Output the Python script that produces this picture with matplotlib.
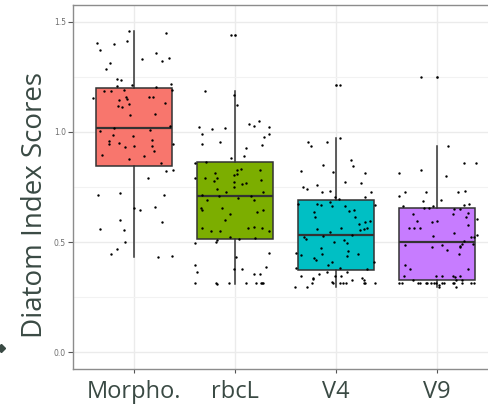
import matplotlib
matplotlib.use("Agg")
import matplotlib.pyplot as plt
from matplotlib.ticker import MultipleLocator

# diatom index scores per method, with jitter offsets
groups = ["Morpho.", "rbcL", "V4", "V9"]
colors = ["#F8766D", "#7CAE00", "#00BFC4", "#C77CFF"]

morpho_y = [1.459, 1.450, 1.404, 1.400, 1.413, 1.373, 1.359, 1.332, 1.323, 1.335,
            1.314, 1.286, 1.241, 1.235, 1.218, 1.208, 1.214, 1.203, 1.191, 1.184,
            1.184, 1.190, 1.155, 1.156, 1.147, 1.146, 1.160, 1.160, 1.131, 1.128,
            1.119, 1.114, 1.082, 1.078, 1.028, 1.019, 1.005, 1.010, 0.986, 0.983,
            0.964, 0.958, 0.946, 0.951, 0.933, 0.937, 0.936, 0.946, 0.915, 0.896,
            0.892, 0.878, 0.860, 0.824, 0.828, 0.792, 0.715, 0.724, 0.715, 0.655,
            0.647, 0.661, 0.602, 0.593, 0.561, 0.556, 0.502, 0.467, 0.447, 0.434,
            0.438]
morpho_dx = [-0.046, 0.32, -0.37, -0.198, -0.066, -0.34, 0.218, 0.083, 0.274, 0.343,
             -0.234, -0.28, -0.172, -0.129, 0.366, -0.165, -0.02, 0.218, 0.373, -0.30,
             -0.228, -0.099, -0.403, -0.083, -0.069, -0.145, 0.145, 0.191, 0.304, -0.053,
             -0.162, -0.116, 0.205, -0.036, 0.353, -0.198, -0.337, 0.158, -0.205, -0.01,
             0.182, -0.244, -0.25, -0.152, -0.092, 0.003, 0.182, 0.383, 0.201, -0.317,
             0.099, -0.05, 0.267, 0.314, 0.383, 0.139, -0.353, -0.135, 0.30, 0.003,
             0.063, 0.205, -0.139, 0.277, -0.34, -0.096, -0.092, -0.168, -0.228, 0.241,
             0.376]

rbcl_y = [1.438, 1.187, 1.169, 1.123, 1.023, 1.014, 1.019, 1.037, 1.028, 1.051,
          1.023, 0.992, 0.978, 0.992, 0.955, 0.946, 0.942, 0.928, 0.892, 0.883,
          0.865, 0.860, 0.828, 0.833, 0.815, 0.806, 0.810, 0.828, 0.792, 0.792,
          0.792, 0.779, 0.783, 0.774, 0.765, 0.769, 0.751, 0.742, 0.729, 0.729,
          0.715, 0.711, 0.711, 0.701, 0.692, 0.692, 0.656, 0.647, 0.656, 0.647,
          0.638, 0.629, 0.602, 0.565, 0.552, 0.552, 0.565, 0.570, 0.565, 0.552,
          0.525, 0.516, 0.520, 0.511, 0.502, 0.497, 0.449, 0.434, 0.389, 0.379,
          0.379, 0.398, 0.366, 0.357, 0.357, 0.316, 0.316, 0.311, 0.316, 0.316,
          0.316, 0.316, 0.316, 0.316]
rbcl_dx = [-0.043, -0.294, -0.007, 0.02, -0.36, -0.231, -0.096, 0.135, 0.191, 0.234,
           0.34, -0.33, 0.284, 0.34, -0.152, -0.327, 0.264, 0.112, 0.086, -0.036,
           -0.29, -0.393, 0.017, 0.059, -0.201, -0.013, 0.023, 0.251, -0.396, -0.30,
           -0.182, -0.205, 0.254, -0.007, 0.069, 0.112, -0.007, -0.175, -0.086, 0.277,
           -0.33, -0.158, 0.162, 0.03, -0.274, 0.188, -0.337, -0.327, -0.129, 0.277,
           0.215, -0.05, -0.096, -0.323, -0.241, -0.149, 0.129, 0.185, 0.271, 0.34,
           -0.053, 0.036, 0.201, -0.182, -0.191, -0.40, 0.337, 0.013, 0.31, -0.013,
           0.073, -0.40, -0.373, 0.191, 0.251, -0.393, -0.185, -0.178, -0.063, 0.106,
           0.205, 0.254, 0.264, 0.281]

v4_y = [1.214, 0.955, 0.937, 0.955, 0.974, 0.874, 0.847, 0.824, 0.851, 0.819,
        0.815, 0.774, 0.769, 0.751, 0.742, 0.760, 0.729, 0.733, 0.729, 0.706,
        0.706, 0.697, 0.683, 0.674, 0.674, 0.668, 0.665, 0.665, 0.670, 0.638,
        0.642, 0.647, 0.615, 0.615, 0.597, 0.593, 0.584, 0.565, 0.561, 0.556,
        0.565, 0.561, 0.547, 0.525, 0.516, 0.529, 0.534, 0.502, 0.511, 0.497,
        0.475, 0.461, 0.452, 0.443, 0.447, 0.447, 0.438, 0.429, 0.420, 0.411,
        0.398, 0.384, 0.411, 0.379, 0.384, 0.366, 0.366, 0.357, 0.348, 0.348,
        0.348, 0.339, 0.333, 0.330, 0.339, 0.330, 0.316, 0.316, 0.319, 0.316,
        0.316, 0.316, 0.316, 0.316, 0.316, 0.298, 0.298]
v4_dx = [0.035, -0.274, -0.244, -0.092, 0.04, 0.145, 0.165, -0.35, -0.125, -0.03,
         0.29, 0.086, 0.251, -0.33, -0.284, -0.191, -0.135, -0.056, 0.347, 0.284,
         -0.013, 0.033, -0.059, -0.38, -0.185, -0.152, -0.043, 0.086, 0.383, -0.218,
         0.132, 0.178, -0.208, 0.188, 0.337, 0.287, 0.228, 0.31, 0.277, 0.241,
         0.053, -0.191, -0.056, -0.314, -0.294, -0.132, 0.162, -0.023, 0.079, 0.112,
         -0.149, 0.119, -0.40, -0.343, -0.142, 0.218, 0.109, -0.218, -0.195, -0.043,
         -0.083, -0.396, 0.376, 0.31, 0.036, 0.106, -0.089, -0.165, -0.01, 0.046,
         -0.343, -0.224, -0.231, 0.155, 0.257, 0.274, 0.287, -0.241, -0.04, -0.026,
         0.043, 0.069, 0.099, 0.277, 0.386, -0.409, -0.29]

v9_y = [1.250, 0.937, 0.860, 0.860, 0.815, 0.828, 0.801, 0.711, 0.729, 0.665,
        0.729, 0.688, 0.656, 0.656, 0.665, 0.692, 0.729, 0.733, 0.652, 0.652,
        0.670, 0.674, 0.629, 0.629, 0.633, 0.597, 0.597, 0.593, 0.615, 0.606,
        0.565, 0.565, 0.565, 0.579, 0.543, 0.529, 0.525, 0.525, 0.534, 0.488,
        0.479, 0.488, 0.506, 0.493, 0.484, 0.493, 0.479, 0.466, 0.447, 0.398,
        0.379, 0.379, 0.348, 0.330, 0.348, 0.348, 0.348, 0.343, 0.348, 0.330,
        0.330, 0.316, 0.316, 0.316, 0.316, 0.316, 0.316, 0.316, 0.316, 0.316,
        0.316, 0.316, 0.316, 0.316, 0.316, 0.316, 0.316, 0.307, 0.295, 0.295]
v9_dx = [-0.158, 0.109, 0.271, 0.389, -0.373, -0.155, 0.089, -0.373, -0.317, -0.337,
         -0.109, -0.135, -0.125, -0.076, -0.04, 0.043, 0.205, 0.281, 0.165, 0.224,
         0.271, 0.32, -0.234, 0.162, 0.307, -0.201, 0.003, -0.053, 0.287, 0.399,
         -0.277, -0.224, -0.165, 0.307, 0.165, -0.04, 0.333, 0.37, 0.399, -0.314,
         -0.046, 0.046, 0.264, 0.248, 0.231, 0.356, 0.224, 0.102, 0.215, -0.32,
         -0.271, 0.307, -0.33, -0.241, -0.013, 0.05, 0.162, 0.175, 0.224, 0.244,
         0.191, -0.373, -0.347, -0.191, -0.172, -0.112, -0.096, -0.056, -0.033, -0.007,
         0.05, 0.069, 0.172, 0.244, 0.34, 0.366, 0.155, 0.017, 0.017, 0.191]

scores = [morpho_y, rbcl_y, v4_y, v9_y]
jitter = [morpho_dx, rbcl_dx, v4_dx, v9_dx]

text_col = "#3A4A44"

fig = plt.figure(figsize=(4.89, 4.04), dpi=100)
ax = fig.add_axes([73 / 489, 1 - 369 / 404, 416 / 489, 364 / 404])

pos = list(range(1, len(groups) + 1))
bp = ax.boxplot(scores, positions=pos, widths=0.75, patch_artist=True,
                whis=1.5, showcaps=False,
                boxprops=dict(edgecolor="#333333", linewidth=1.1),
                whiskerprops=dict(color="#333333", linewidth=1.1),
                medianprops=dict(color="#333333", linewidth=1.6),
                flierprops=dict(marker="o", markersize=1.9, markerfacecolor="black",
                                markeredgewidth=0),
                zorder=2)
for patch, c in zip(bp["boxes"], colors):
    patch.set_facecolor(c)

for p, ys, dx in zip(pos, scores, jitter):
    ax.scatter([p + d for d in dx], ys, s=3, color="black", linewidths=0, zorder=3)

ax.set_xlim(0.396, 4.515)
ax.set_ylim(-0.075, 1.575)
ax.yaxis.set_minor_locator(MultipleLocator(0.25))
ax.set_yticks([0.0, 0.5, 1.0, 1.5])
ax.set_yticklabels(["0.0", "0.5", "1.0", "1.5"])
ax.set_xticks(pos)
ax.set_xticklabels(groups)

ax.grid(which="major", color="#EBEBEB", linewidth=1.0, zorder=0)
ax.grid(which="minor", axis="y", color="#F2F2F2", linewidth=0.8, zorder=0)
ax.set_axisbelow(True)

for side in ["left", "top", "bottom"]:
    ax.spines[side].set_color("#8C8C8C")
    ax.spines[side].set_linewidth(1.0)
ax.spines["right"].set_visible(False)

ax.tick_params(axis="y", which="major", length=3.5, width=0.8, color="#555555",
               labelsize=5.5, labelcolor="#6E6E6E", pad=1.5)
ax.tick_params(axis="y", which="minor", length=0)
ax.tick_params(axis="x", length=3, width=0.8, color="#555555",
               labelsize=17, labelcolor=text_col, pad=5)
for lab in ax.get_xticklabels():
    lab.set_family("Open Sans")

ax.set_ylabel("Diatom Index Scores", fontsize=20, color=text_col,
              family="Open Sans")
ax.yaxis.set_label_coords(-0.058, 0.45)

# leftover bullet sliver at the left edge
fig.add_artist(plt.Line2D([0.002], [1 - 348 / 404], marker="D", markersize=4,
                          color=text_col, transform=fig.transFigure))

fig.savefig("out.png", dpi=100)
